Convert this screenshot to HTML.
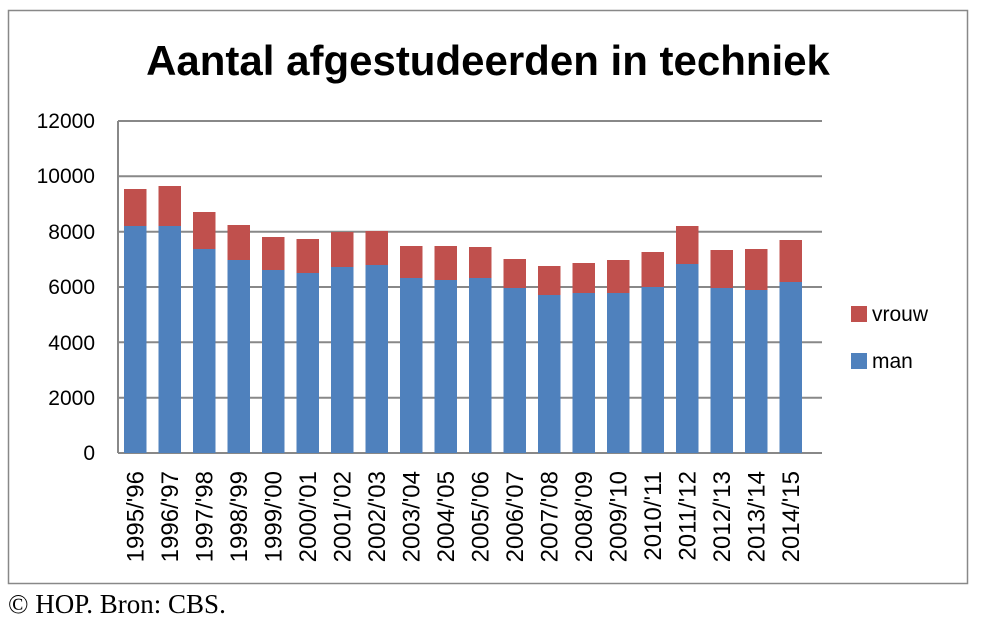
<!DOCTYPE html>
<html><head><meta charset="utf-8"><style>
body{margin:0;background:#fff;width:983px;height:626px;overflow:hidden}
</style></head><body>
<svg width="983" height="626" xmlns="http://www.w3.org/2000/svg" font-family="Liberation Sans, sans-serif">
<rect x="8.5" y="10.5" width="959" height="573" fill="#fff" stroke="#888" stroke-width="1.5"/>
<text x="488" y="75" text-anchor="middle" font-size="42" font-weight="bold">Aantal afgestudeerden in techniek</text>
<g stroke="#888" stroke-width="2">
<line x1="118" y1="121" x2="822" y2="121"/>
<line x1="118" y1="176.3" x2="822" y2="176.3"/>
<line x1="118" y1="231.7" x2="822" y2="231.7"/>
<line x1="118" y1="287" x2="822" y2="287"/>
<line x1="118" y1="342.3" x2="822" y2="342.3"/>
<line x1="118" y1="397.7" x2="822" y2="397.7"/>
<line x1="118" y1="453" x2="822" y2="453"/>
<line x1="118" y1="121" x2="118" y2="453"/>
</g>
<g font-size="21" text-anchor="end">
<text x="95" y="128">12000</text><text x="95" y="183">10000</text><text x="95" y="239">8000</text>
<text x="95" y="294">6000</text><text x="95" y="350">4000</text><text x="95" y="405">2000</text><text x="95" y="460">0</text>
</g>
<g id="bars"></g>
<rect x="851" y="306" width="16" height="16" fill="#c0504d"/>
<rect x="851" y="353" width="16" height="16" fill="#4f81bd"/>
<text x="872" y="321" font-size="21">vrouw</text>
<text x="872" y="368" font-size="21">man</text>
<text x="8" y="613" font-size="27" font-family="Liberation Serif, serif">© HOP. Bron: CBS.</text>
<g font-size="24" id="lbl"></g>
</svg>
<script>
var t=[189,186,212,225,237,239,232,231,246,246,247,259,266,263,260,252,226,250,249,240];
var m=[226,226,249,260,270,273,267,265,278,280,278,288,295,293,293,287,264,288,290,282];
var L=["1995/'96","1996/'97","1997/'98","1998/'99","1999/'00","2000/'01","2001/'02","2002/'03","2003/'04","2004/'05","2005/'06","2006/'07","2007/'08","2008/'09","2009/'10","2010/'11","2011/'12","2012/'13","2013/'14","2014/'15"];
var b='',l='';
for(var i=0;i<20;i++){var x=124+i*34.5;
b+='<rect x="'+x+'" y="'+t[i]+'" width="22.5" height="'+(m[i]-t[i])+'" fill="#c0504d"/>';
b+='<rect x="'+x+'" y="'+m[i]+'" width="22.5" height="'+(453-m[i])+'" fill="#4f81bd"/>';
var cx=x+11.25+8;
l+='<text transform="translate('+cx+',471) rotate(-90)" text-anchor="end">'+L[i]+'</text>';}
document.getElementById('bars').innerHTML=b;document.getElementById('lbl').innerHTML=l;
</script>
</body></html>
